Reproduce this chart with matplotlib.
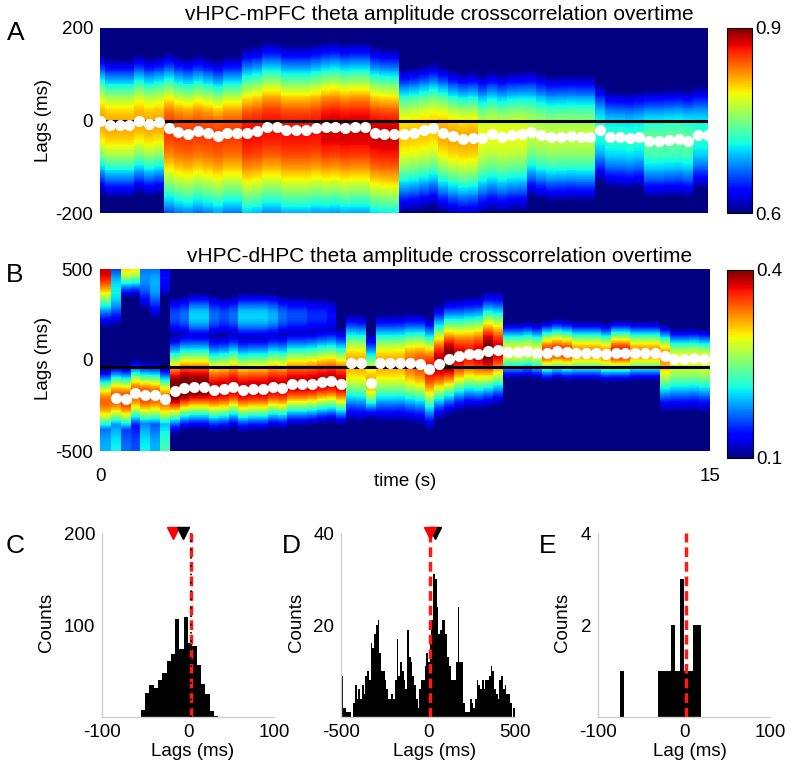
import numpy as np
import matplotlib.pyplot as plt

plt.rcParams['font.family'] = ['Liberation Sans', 'DejaVu Sans']
plt.rcParams['axes.unicode_minus'] = False

# Panel A: vHPC-mPFC, one column per time bin (63 bins over 15 s)
lag_peak_a = [0, -10, -10, -10, 0, -7, -3, -17, -25, -29, -23, -28, -34, -26, -26, -26,
              -22, -13, -13, -21, -21, -21, -17, -15, -13, -17, -15, -15, -26, -29, -30,
              -29, -26, -21, -16, -26, -34, -39, -37, -37, -30, -35, -31, -30, -24, -31,
              -36, -35, -34, -35, -35, -21, -35, -36, -38, -35, -44, -44, -42, -41, -44,
              -31, -31]
peak_a = ([0.82] * 7 + [0.855] * 8 + [0.87] * 8 + [0.88] * 8 + [0.81] * 4 + [0.82] * 4
          + [0.79] * 5 + [0.775] * 7 + [0.72] * 5 + [0.74] * 5 + [0.72] * 2)
sig_up_a = [95] * 7 + [105] * 8 + [115] * 16 + [95] * 13 + [95] * 7 + [80] * 5 + [85] * 7
sig_dn_a = [105] * 7 + [145] * 8 + [155] * 16 + [115] * 13 + [100] * 7 + [90] * 5 + [95] * 7

# Panel B: vHPC-dHPC, first column has no peak marker
lag_peak_b = [-230, -207, -217, -182, -195, -195, -217, -171, -153, -149, -149, -167, -162,
              -149, -167, -162, -162, -149, -153, -134, -134, -130, -121, -116, -130, -14,
              -18, -125, -18, -18, -16, -16, -20, -48, -20, 8, 20, 31, 31, 50, 54, 44, 44,
              50, 41, 41, 50, 44, 41, 41, 41, 31, 41, 41, 41, 41, 41, 22, 8, 8, 11, 4]
peak_b = ([0.34, 0.35, 0.36, 0.35, 0.36, 0.35, 0.34] + [0.42, 0.42, 0.41, 0.41]
          + [0.385] * 14 + [0.32] * 6
          + [0.34, 0.35, 0.37, 0.39, 0.41, 0.38, 0.37, 0.38, 0.41, 0.38]
          + [0.29] * 4 + [0.36] * 3 + [0.33] * 4 + [0.37] * 2 + [0.33] * 4 + [0.29] * 4)
sig_up_b = [100] * 7 + [160] * 18 + [150] * 9 + [170] * 7 + [95] * 21
sig_dn_b = ([115] * 7 + [120] * 18 + [180, 180, 110, 180, 180, 180, 180, 180, 180]
            + [160] * 7 + [85] * 16 + [170] * 5)
top_val_b = ([0.38, 0.21, 0.31, 0.30, 0.18, 0.19, 0.14]
             + [0.16, 0.17, 0.20, 0.20, 0.17, 0.16, 0.17, 0.20, 0.20, 0.20, 0.19, 0.17,
                0.16, 0.16, 0.15, 0.15, 0.14] + [0] * 38)
top_lag_b = [500, 380, 520, 520, 450, 420, 450] + [240] * 17 + [0] * 38
top_sig_b = [170, 130, 100, 100, 130, 140, 100] + [90] * 17 + [100] * 38
bot_val_b = [0.19, 0.21, 0.17, 0.16, 0.21, 0.19, 0.23] + [0] * 55

# Histograms
counts_c = [8, 26, 35, 31, 40, 48, 61, 69, 106, 74, 109, 80, 77, 57, 36, 25, 7, 1]
bins_c = np.arange(-52.5, 35, 5)
counts_d = [9, 2, 2, 1, 1, 1, 0, 3, 7, 4,
            6, 4, 7, 5, 9, 10, 8, 16, 15, 18,
            20, 21, 14, 10, 10, 8, 6, 4, 4, 5,
            4, 8, 17, 9, 12, 10, 8, 6, 19, 13,
            12, 9, 7, 4, 2, 6, 8, 8, 11, 14,
            12, 16, 21, 31, 30, 24, 18, 19, 21, 21,
            18, 13, 11, 8, 8, 8, 12, 24, 12, 12,
            3, 1, 1, 1, 4, 3, 2, 4, 8, 7,
            6, 8, 6, 8, 8, 9, 11, 10, 6, 5,
            4, 8, 9, 6, 7, 5, 5, 3, 0, 2]
bins_d = np.arange(-495, 500, 10)
bins_e = [-72.5, -27.5, -22.5, -17.5, -12.5, -7.5, -2.5, 2.5, 7.5, 12.5, 17.5]
counts_e = [1, 1, 1, 1, 2, 1, 3, 1, 1, 2, 2]

# mean / median markers
red_line = {'C': 3, 'D': 10, 'E': 2}
red_tri = {'C': -17, 'D': 10}
black_tri = {'C': -6, 'D': 40}


def bump(lags, center, peak, sig_up, sig_dn, base):
    sig = np.where(lags >= center, sig_up, sig_dn)
    return base + (peak - base) * np.exp(-(lags - center) ** 2 / (2.0 * sig ** 2))


def col_edges(t):
    return np.concatenate([[0], (t[:-1] + t[1:]) / 2, [15]])


fig = plt.figure(figsize=(8, 7.69), dpi=100)
W, H = 800.0, 769.0


def px_axes(x0, y0, x1, y1):
    return fig.add_axes([x0 / W, 1 - y1 / H, (x1 - x0) / W, (y1 - y0) / H])


FS = 13.5

# ---- Panel A
t_a = np.arange(len(lag_peak_a)) * 15.0 / (len(lag_peak_a) - 1)
lag_edges_a = np.linspace(-200, 200, 201)
lag_c_a = (lag_edges_a[:-1] + lag_edges_a[1:]) / 2
Za = np.column_stack([bump(lag_c_a, c, p, su, sd, 0.5)
                      for c, p, su, sd in zip(lag_peak_a, peak_a, sig_up_a, sig_dn_a)])

ax_a = px_axes(100, 28, 708, 213)
mesh_a = ax_a.pcolormesh(col_edges(t_a), lag_edges_a, Za, cmap='jet', vmin=0.6, vmax=0.9,
                         shading='flat')
ax_a.axhline(0, color='black', lw=2.2)
ax_a.plot(t_a, lag_peak_a, 'o', color='white', ms=7, clip_on=False)
ax_a.set_xlim(0, 15)
ax_a.set_ylim(-200, 200)
ax_a.set_xticks([])
ax_a.set_yticks([-200, 0, 200])
ax_a.tick_params(length=0, labelsize=FS, pad=5)
for s in ax_a.spines.values():
    s.set_visible(False)

cax_a = px_axes(727, 28, 752, 213)
cb_a = fig.colorbar(mesh_a, cax=cax_a, ticks=[0.6, 0.9])
cb_a.ax.tick_params(length=0, labelsize=FS, pad=2)
cb_a.outline.set_linewidth(0.8)

# ---- Panel B
t_b = 0.39 + 0.241 * (np.arange(len(lag_peak_b)) - 1)
lag_edges_b = np.linspace(-500, 500, 251)
lag_c_b = (lag_edges_b[:-1] + lag_edges_b[1:]) / 2
cols_b = []
for i in range(len(lag_peak_b)):
    main = bump(lag_c_b, lag_peak_b[i], peak_b[i], sig_up_b[i], sig_dn_b[i], 0.05)
    top = bump(lag_c_b, top_lag_b[i], max(top_val_b[i], 0.05), top_sig_b[i], top_sig_b[i], 0.05)
    bot = bump(lag_c_b, -500, max(bot_val_b[i], 0.05), 220, 220, 0.05)
    cols_b.append(np.maximum(main, np.maximum(top, bot)))
Zb = np.column_stack(cols_b)

ax_b = px_axes(100, 269, 710, 451)
mesh_b = ax_b.pcolormesh(col_edges(t_b), lag_edges_b, Zb, cmap='jet', vmin=0.1, vmax=0.4,
                         shading='flat')
ax_b.axhline(-40, color='black', lw=2.2)
ax_b.plot(t_b[1:], lag_peak_b[1:], 'o', color='white', ms=7, clip_on=False)
ax_b.set_xlim(0, 15)
ax_b.set_ylim(-500, 500)
ax_b.set_xticks([0, 15])
ax_b.set_yticks([-500, 0, 500])
ax_b.tick_params(length=0, labelsize=FS, pad=5)
ax_b.tick_params(axis='x', pad=12)
for s in ax_b.spines.values():
    s.set_visible(False)

cax_b = px_axes(727, 270, 753, 458)
cb_b = fig.colorbar(mesh_b, cax=cax_b, ticks=[0.1, 0.4])
cb_b.ax.tick_params(length=0, labelsize=FS, pad=2)
cb_b.outline.set_linewidth(0.8)


# ---- Histograms
def style_hist(ax, xlim, ylim, xticks, yticks):
    ax.set_xlim(*xlim)
    ax.set_ylim(*ylim)
    ax.set_xticks(xticks)
    ax.set_yticks(yticks)
    ax.tick_params(length=0, labelsize=FS, pad=5)
    for side in ['top', 'right']:
        ax.spines[side].set_visible(False)
    for side in ['left', 'bottom']:
        ax.spines[side].set_color('#d0d0d0')
        ax.spines[side].set_linewidth(1.0)


red_kw = dict(color='#ff1a1a', lw=2.5, ls=(0, (2.8, 1.4)), zorder=3)

ax_c = px_axes(102, 533, 274, 717)
ax_c.bar(bins_c, counts_c, width=5, color='black', linewidth=0)
ax_c.axvline(red_line['C'], **red_kw)
ax_c.axvline(red_line['C'], color='black', lw=1.2, ls=(0, (1, 4)), zorder=4)
ax_c.plot(red_tri['C'], 200, 'v', color='red', ms=9, clip_on=False, zorder=5)
ax_c.plot(black_tri['C'], 200, 'v', color='black', ms=9, clip_on=False, zorder=6)
style_hist(ax_c, (-100, 100), (0, 200), [-100, 0, 100], [100, 200])

ax_d = px_axes(341, 533, 515, 717)
ax_d.bar(bins_d, counts_d, width=10, color='black', linewidth=0)
ax_d.axvline(red_line['D'], **red_kw)
ax_d.plot(black_tri['D'], 40, 'v', color='black', ms=9, clip_on=False, zorder=5)
ax_d.plot(red_tri['D'], 40, 'v', color='red', ms=9, clip_on=False, zorder=6)
style_hist(ax_d, (-500, 500), (0, 40), [-500, 0, 500], [20, 40])

ax_e = px_axes(598, 533, 770, 717)
ax_e.bar(bins_e, counts_e, width=5, color='black', linewidth=0)
ax_e.axvline(red_line['E'], **red_kw)
style_hist(ax_e, (-100, 100), (0, 4), [-100, 0, 100], [2, 4])


# ---- Texts
def ftext(x, y, s, **kw):
    fig.text(x / W, 1 - y / H, s, ha='center', va='center', **kw)


ftext(439, 14, 'vHPC-mPFC theta amplitude crosscorrelation overtime', fontsize=15)
ftext(440, 257, 'vHPC-dHPC theta amplitude crosscorrelation overtime', fontsize=15)
ftext(405, 481, 'time (s)', fontsize=FS)
ftext(43, 120, 'Lags (ms)', fontsize=FS, rotation=90)
ftext(43, 358, 'Lags (ms)', fontsize=FS, rotation=90)
ftext(47, 622, 'Counts', fontsize=FS, rotation=90)
ftext(296, 622, 'Counts', fontsize=FS, rotation=90)
ftext(562, 622, 'Counts', fontsize=FS, rotation=90)
ftext(193, 752, 'Lags (ms)', fontsize=FS)
ftext(435, 752, 'Lags (ms)', fontsize=FS)
ftext(690, 752, 'Lag (ms)', fontsize=FS)
for letter, x, y in [('A', 16, 33), ('B', 15, 275), ('C', 15, 546), ('D', 291, 546),
                     ('E', 548, 546)]:
    ftext(x, y, letter, fontsize=19)

fig.savefig('out.png', dpi=100)
